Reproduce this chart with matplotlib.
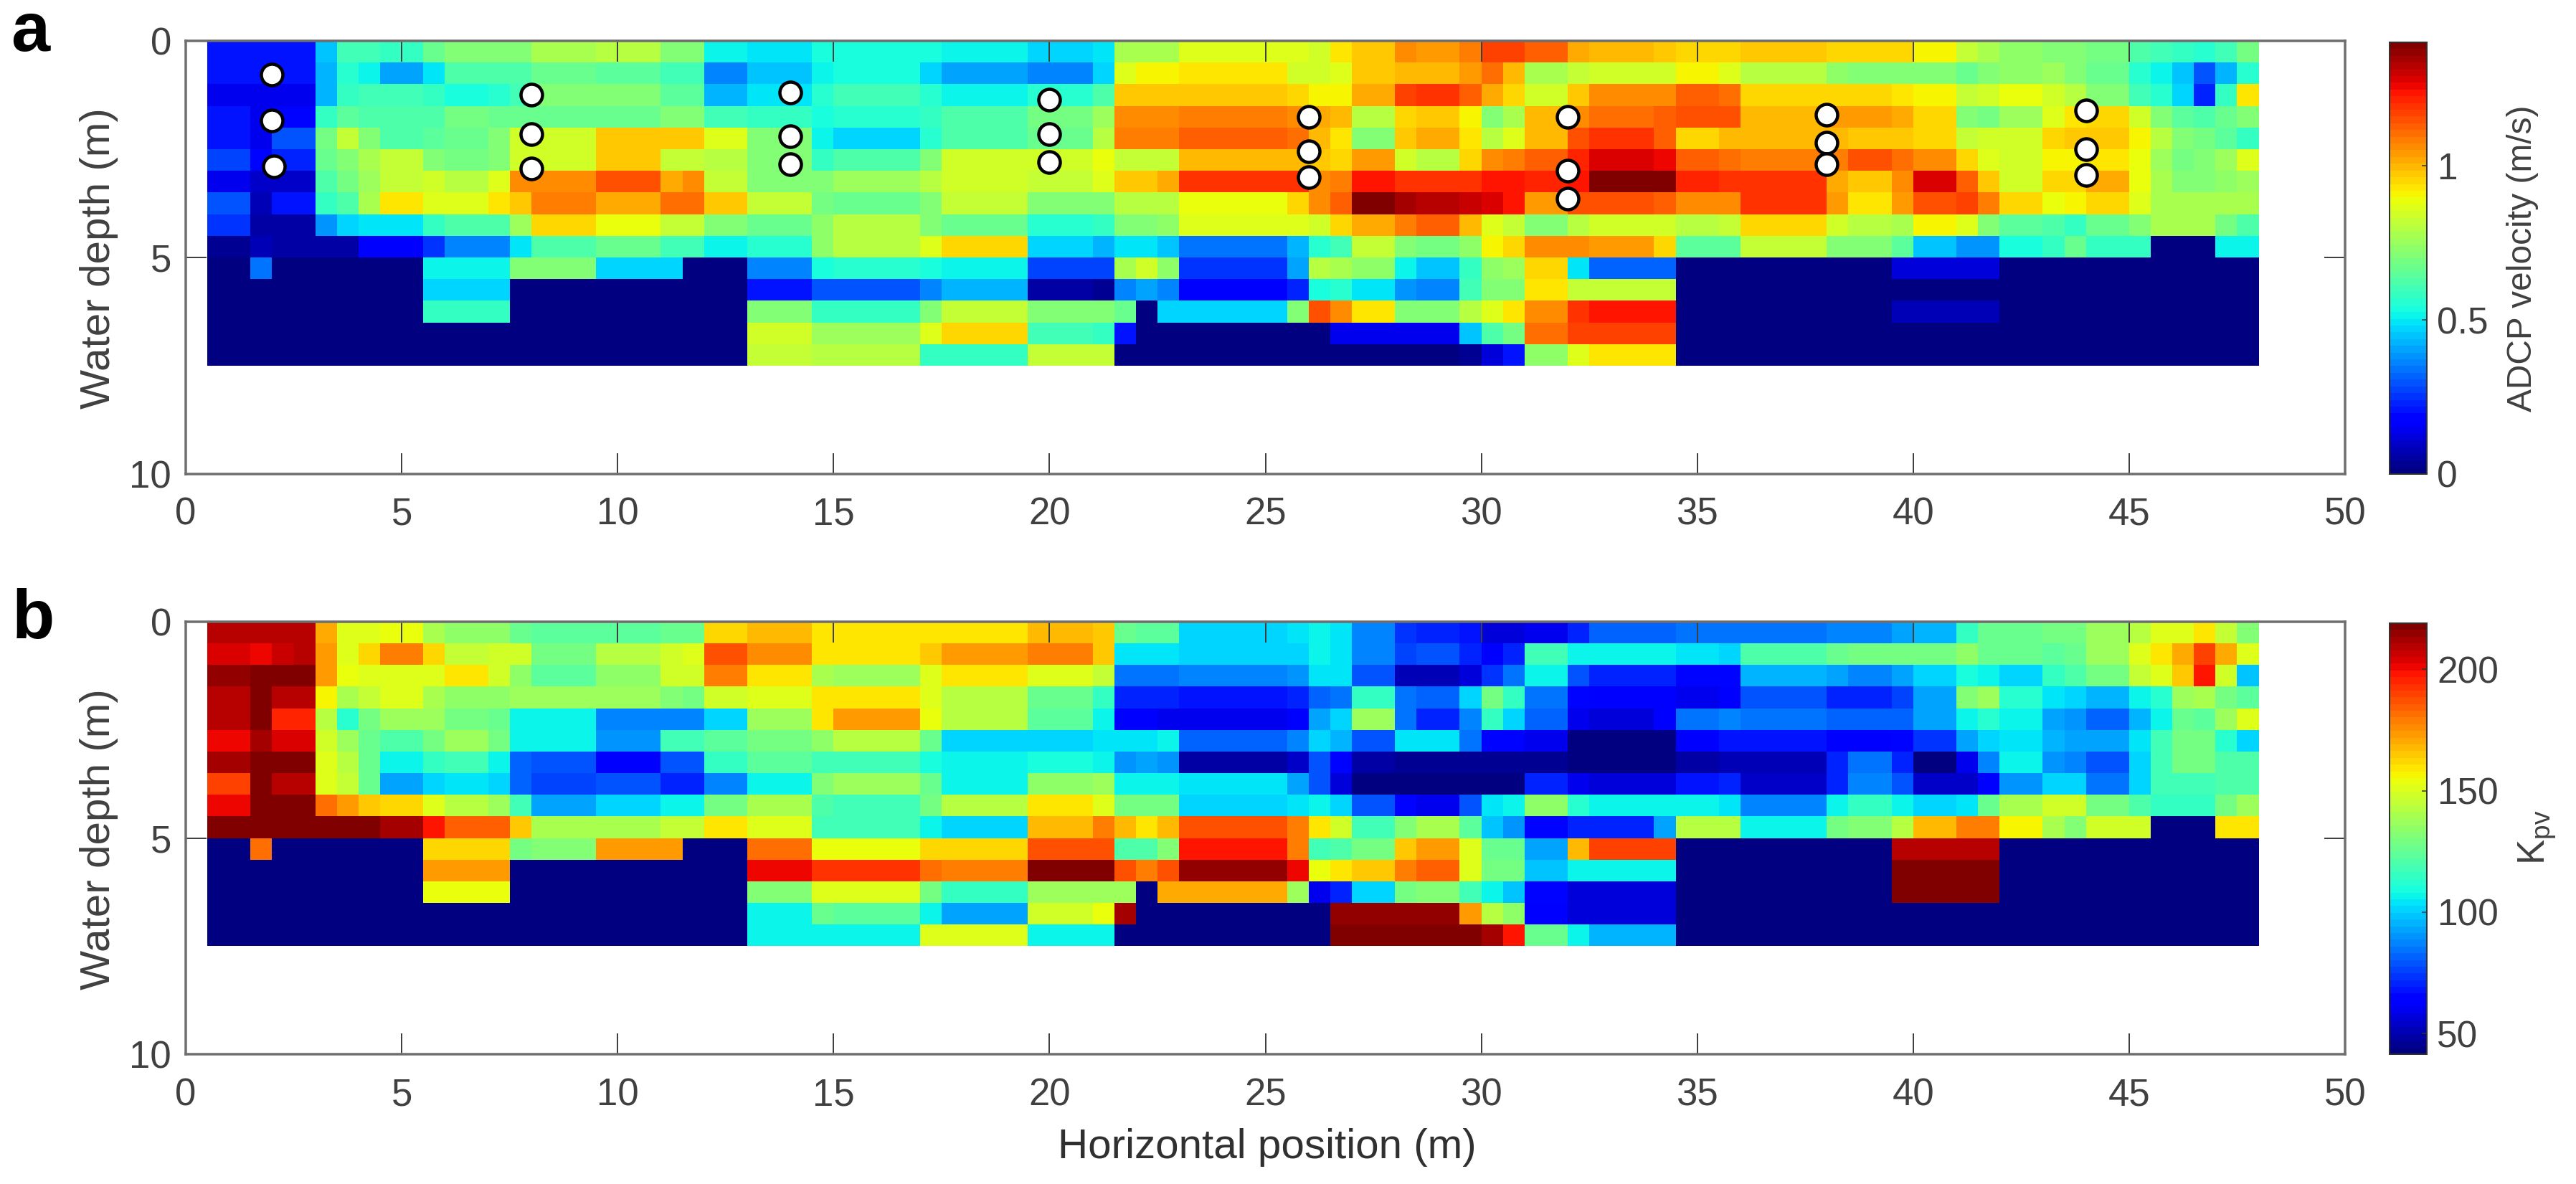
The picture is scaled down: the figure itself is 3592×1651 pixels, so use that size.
import numpy as np
import matplotlib
matplotlib.use("Agg")
import matplotlib.pyplot as plt

plt.rcParams['font.family'] = ['Liberation Sans', 'DejaVu Sans']
plt.rcParams['mathtext.fontset'] = 'custom'
plt.rcParams['mathtext.rm'] = 'Liberation Sans'
plt.rcParams['mathtext.default'] = 'rm'

# horizontal cell edges (m) and vertical cell edges (m)
x_edges = [0.5,1.5,2,2.5,3,3.5,4,4.5,5.5,6,7,7.5,8,9.5,11,11.5,12,13,14.5,15,17,17.5,19.5,21,21.5,22,22.5,23,
           25.5,26,26.5,27,28,28.5,29.5,30,30.5,31,32,32.5,34,34.5,35.5,36,38,38.5,39.5,40,41,41.5,42,43,43.5,
           44,45,45.5,46,46.5,47,47.5,48]
depth_edges = [0,0.5,1,1.5,2,2.5,3,3.5,4,4.5,5,5.5,6,6.5,7,7.5]

# ADCP velocity (m/s), one row per depth cell
v00 = [.20,.20,.20,.20,.45,.60,.60,.58,.66,.70, .72,.72,.78,.80,.72,.72,.52,.50,.53,.53, .53,.52,.46,.49,.78,.78,.78,.87,.87,.85, .92,.98,1.05,1.03,1.08,1.18,1.16,1.13,1.02,.99, .98,.96,.96,.97,.95,.95,.95,.90,.82,.78, .74,.72,.72,.68,.62,.60,.58,.55,.60,.68]
v01 = [.20,.20,.20,.20,.43,.56,.52,.40,.50,.62, .62,.62,.66,.64,.60,.60,.35,.44,.52,.53, .47,.40,.37,.46,.87,.90,.90,.92,.84,.84, .87,.97,1.0,1.0,1.03,1.10,1.0,.78,.82,.85, .85,.90,.86,.80,.74,.72,.72,.72,.66,.70, .74,.76,.72,.66,.56,.52,.44,.30,.42,.55]
v02 = [.15,.15,.15,.15,.43,.58,.60,.60,.58,.54, .56,.60,.72,.70,.65,.65,.42,.50,.56,.60, .55,.52,.55,.62,.97,.97,.97,.98,.96,.90, .90,1.02,1.18,1.20,1.12,1.02,.95,.85,.98,1.07, 1.07,1.12,1.10,.95,.95,.95,.93,.90,.82,.84, .88,.84,.80,.72,.60,.56,.48,.24,.58,.93]
v03 = [.20,.14,.18,.18,.57,.65,.62,.62,.62,.68, .67,.66,.66,.67,.70,.70,.60,.58,.54,.55, .57,.63,.68,.75,1.07,1.07,1.07,1.08,1.05,1.02, 1.00,.80,.95,.97,.90,.72,.78,1.00,1.05,1.10, 1.13,1.14,1.15,1.00,1.03,1.04,1.02,.95,.70,.68, .76,.86,.92,.96,.84,.72,.64,.62,.66,.72]
v04 = [.20,.14,.30,.30,.68,.82,.72,.62,.65,.66, .70,.85,.85,.98,.98,.98,.87,.70,.52,.46, .55,.63,.66,.80,1.09,1.09,1.09,1.12,1.10,1.00, .92,.72,.97,1.02,.94,.80,.86,1.00,1.15,1.19, 1.12,.96,.99,.99,.99,.98,.98,.95,.82,.84, .84,.96,.98,.98,.90,.80,.72,.68,.64,.58]
v05 = [.28,.18,.22,.22,.66,.72,.78,.82,.72,.68, .70,.85,.85,.98,.82,.82,.80,.72,.57,.62, .72,.85,.85,.88,.82,.82,.82,1.00,1.00,.98, .96,1.03,.85,.80,.95,1.06,1.08,1.13,1.22,1.28, 1.25,1.12,1.10,1.08,1.08,1.15,1.10,1.05,.95,.86, .85,.90,.90,.94,.88,.76,.68,.70,.76,.86]
v06 = [.14,.10,.10,.10,.63,.68,.76,.82,.84,.80, .86,1.05,1.06,1.14,1.02,1.05,.83,.72,.72,.76, .80,.84,.83,.86,.98,.98,1.02,1.20,1.20,1.05, 1.08,1.24,1.20,1.20,1.20,1.23,1.23,1.22,1.23,1.38, 1.38,1.22,1.20,1.20,1.02,.98,1.05,1.27,1.12,.98, .84,.95,.96,1.02,.88,.78,.72,.70,.74,.76]
v07 = [.30,.08,.20,.20,.58,.62,.78,.94,.87,.87, .92,.98,1.08,1.02,1.10,1.10,.98,.83,.68,.66, .70,.82,.70,.70,.80,.80,.80,.88,.96,1.07, 1.13,1.38,1.35,1.33,1.31,1.29,1.23,1.04,1.15,1.15, 1.12,1.06,1.06,1.20,1.03,.94,1.03,1.15,1.16,1.08, .95,.88,.90,.96,.86,.78,.78,.78,.78,.78]
v08 = [.25,.06,.06,.06,.38,.47,.49,.50,.58,.62, .62,.76,.96,.88,.82,.82,.70,.66,.74,.80, .72,.66,.56,.58,.70,.72,.74,.87,.87,.85, .95,1.02,1.08,1.12,1.00,.87,.82,.70,.80,.84, .84,.80,.82,.95,.84,.80,.78,.90,.86,.72, .64,.62,.58,.66,.70,.78,.78,.78,.68,.62]
v09 = [.04,.08,.05,.05,.05,.05,.16,.17,.26,.36, .36,.50,.62,.66,.60,.60,.52,.56,.74,.80, .86,.95,.46,.42,.50,.50,.45,.33,.42,.55, .60,.82,.72,.68,.74,.90,.96,1.07,1.05,1.03, .96,.65,.65,.82,.70,.70,.64,.45,.38,.38, .53,.58,.66,.58,.58,0,0,0,.52,.52]
v10 = [0,.34,0,0,0,0,0,0,.52,.52, .52,.70,.72,.46,.46,0,0,.36,.54,.56, .53,.52,.28,.28,.78,.84,.74,.26,.40,.80, .77,.74,.52,.45,.58,.74,.76,.96,.50,.32, .32,0,0,0,0,0,.12,.12,.12,.12, 0,0,0,0,0,0,0,0,0,0]
v11 = [0,0,0,0,0,0,0,0,.46,.46, .46,0,0,0,0,0,0,.20,.30,.30, .35,.43,.06,.03,.35,.40,.35,.17,.24,.54, .56,.50,.38,.36,.60,.70,.72,.93,.82,.83, .83,0,0,0,0,0,0,0,0,0, 0,0,0,0,0,0,0,0,0,0]
v12 = [0,0,0,0,0,0,0,0,.58,.58, .58,0,0,0,0,0,0,.70,.58,.58, .70,.82,.70,.70,.66,0,.46,.46,.70,1.14, 1.06,.93,.72,.70,.80,.87,.92,1.07,1.20,1.23, 1.23,0,0,0,0,0,.08,.08,.08,.08, 0,0,0,0,0,0,0,0,0,0]
v13 = [0,0,0,0,0,0,0,0,0,0, 0,0,0,0,0,0,0,.84,.76,.76, .86,.95,.60,.58,.20,0,0,0,0,0, .14,.14,.14,.14,.44,.62,.68,1.10,1.17,1.18, 1.18,0,0,0,0,0,0,0,0,0, 0,0,0,0,0,0,0,0,0,0]
v14 = [0,0,0,0,0,0,0,0,0,0, 0,0,0,0,0,0,0,.82,.80,.80, .58,.58,.83,.83,0,0,0,0,0,0, 0,0,0,.02,.03,.12,.20,.74,.87,.93, .93,0,0,0,0,0,0,0,0,0, 0,0,0,0,0,0,0,0,0,0]

# Kpv, one row per depth cell
k00 = [210,210,210,210,170,152,152,155,140,135, 135,125,122,122,125,125,162,167,160,158, 158,158,168,165,125,122,122,100,105,108, 105,88,74,72,67,56,56,60,72,82, 82,84,85,85,88,88,92,96,115,125, 125,130,130,138,143,150,150,158,145,132]
k01 = [205,200,207,210,172,150,162,178,163,146, 148,148,130,142,148,150,187,175,160,160, 165,172,180,166,103,103,103,100,102,108, 105,88,76,78,72,62,70,118,108,108, 106,103,100,120,126,130,130,130,135,125, 125,122,125,138,150,158,170,190,170,150]
k02 = [215,220,220,220,172,155,152,150,152,158, 148,135,122,135,148,148,178,158,140,138, 150,158,152,146,85,85,85,88,90,105, 105,78,50,50,58,74,84,108,78,72, 70,66,66,95,92,88,92,100,110,108, 100,115,120,130,145,152,165,197,148,98]
k03 = [210,220,208,208,157,140,145,150,140,135, 135,136,138,138,132,130,147,150,158,160, 152,142,125,115,72,72,70,68,70,82, 84,115,84,82,102,128,114,84,66,62, 62,60,62,78,72,70,75,92,132,138, 112,105,100,95,108,112,136,140,130,122]
k04 = [210,220,195,195,142,112,128,138,136,130, 125,108,107,88,88,88,100,137,158,172, 154,142,122,108,62,62,60,60,62,92, 102,136,84,72,86,115,100,82,60,58, 62,85,86,84,82,82,82,92,108,112, 108,92,90,82,95,108,125,122,138,150]
k05 = [200,212,205,205,148,138,125,120,128,136, 130,108,107,90,118,118,122,128,135,142, 125,100,100,103,105,105,108,82,88,100, 95,80,105,105,85,66,64,60,44,44, 44,62,68,68,62,62,64,74,94,102, 105,96,94,92,105,118,128,128,112,102]
k06 = [212,220,220,220,150,142,125,108,115,118, 108,82,78,63,80,78,116,124,118,118, 110,106,110,108,90,92,90,48,54,78, 64,48,45,46,46,46,46,46,42,42, 42,48,50,50,72,84,72,42,60,88, 108,90,88,78,100,118,128,128,120,120]
k07 = [190,222,210,210,150,145,125,92,100,104, 100,82,76,80,72,70,88,108,132,138, 125,108,135,136,108,108,108,105,92,78, 57,42,42,42,42,42,42,70,60,58, 58,68,70,54,72,88,78,54,54,62, 90,102,102,85,102,118,118,118,120,120]
k08 = [202,222,222,222,182,172,166,162,150,143, 138,118,92,100,106,108,128,140,120,118, 128,142,158,152,128,130,128,102,105,108, 100,78,66,60,80,104,108,135,112,108, 108,108,105,88,106,114,108,102,105,125, 140,148,148,130,120,115,115,115,130,138]
k09 = [222,222,222,222,222,222,222,212,197,183, 183,165,140,140,145,145,160,150,118,118, 108,100,168,180,168,160,168,188,178,158, 148,118,132,140,122,98,90,64,72,72, 92,142,142,108,130,132,142,168,178,178, 156,140,132,148,148,40,40,40,160,160]
k10 = [40,182,40,40,40,40,40,40,162,162, 162,130,132,172,172,40,40,182,155,154, 162,162,188,188,120,120,132,198,178,118, 120,130,164,172,150,125,125,92,168,190, 190,40,40,40,40,40,210,210,210,210, 40,40,40,40,40,40,40,40,40,40]
k11 = [40,40,40,40,40,40,40,40,172,172, 172,40,40,40,40,40,40,200,192,192, 182,178,222,222,187,178,188,215,200,155, 160,166,178,183,152,128,128,98,106,108, 108,40,40,40,40,40,220,220,220,220, 40,40,40,40,40,40,40,40,40,40]
k12 = [40,40,40,40,40,40,40,40,154,154, 154,40,40,40,40,40,40,132,150,150, 128,115,138,138,138,40,170,170,138,60, 72,100,128,132,118,106,98,66,56,56, 56,40,40,40,40,40,220,220,220,220, 40,40,40,40,40,40,40,40,40,40]
k13 = [40,40,40,40,40,40,40,40,40,40, 40,40,40,40,40,40,40,108,125,122, 108,92,148,155,212,40,40,40,40,40, 215,215,215,215,172,142,135,62,56,56, 56,40,40,40,40,40,40,40,40,40, 40,40,40,40,40,40,40,40,40,40]
k14 = [40,40,40,40,40,40,40,40,40,40, 40,40,40,40,40,40,40,108,108,108, 150,152,108,108,40,40,40,40,40,40, 222,222,222,222,222,212,198,125,106,96, 96,40,40,40,40,40,40,40,40,40, 40,40,40,40,40,40,40,40,40,40]

# measurement points in panel a
point_x = [2,2,2.05, 8,8,8, 14,14,14, 20,20,20, 26,26,26, 32,32,32, 38,38,38, 44,44,44]
point_depth = [0.78,1.83,2.89, 1.25,2.15,2.95, 1.2,2.2,2.85, 1.35,2.15,2.8, 1.75,2.55,3.15, 1.75,3.0,3.65, 1.7,2.35,2.85, 1.6,2.5,3.1]

velocity = np.array([v00,v01,v02,v03,v04,v05,v06,v07,v08,v09,v10,v11,v12,v13,v14], float)
kpv = np.array([k00,k01,k02,k03,k04,k05,k06,k07,k08,k09,k10,k11,k12,k13,k14], float)

W, H = 3592, 1651
fig = plt.figure(figsize=(W/100, H/100), dpi=100, facecolor='white')
PT = 0.72
TXT = '#404040'
SPINE = '#6e6e6e'
cmap = plt.get_cmap('jet', 64)

def box(l, t, r, b):
    return [l/W, 1-b/H, (r-l)/W, (b-t)/H]

def panel(top, bottom, data, vmin, vmax, ticks, ticklabels):
    ax = fig.add_axes(box(259, top, 3270, bottom))
    mesh = ax.pcolormesh(x_edges, depth_edges, data, cmap=cmap, vmin=vmin, vmax=vmax)
    ax.set_xlim(0, 50)
    ax.set_ylim(10, 0)
    ax.set_xticks(range(0, 51, 5))
    ax.set_yticks([0, 5, 10])
    ax.tick_params(axis='both', which='major', direction='in', top=True, right=True,
                   length=29*PT, width=2*PT, color='#404040', labelsize=38, labelcolor=TXT)
    ax.tick_params(axis='x', pad=32*PT)
    ax.tick_params(axis='y', pad=20*PT)
    for s in ax.spines.values():
        s.set_color(SPINE)
        s.set_linewidth(3.5*PT)
    cax = fig.add_axes(box(3332, top+2, 3384, bottom))
    cb = fig.colorbar(mesh, cax=cax)
    cb.set_ticks(ticks)
    cb.set_ticklabels(ticklabels)
    cb.ax.tick_params(direction='in', length=7*PT, width=1.5*PT, color='#333333',
                      labelsize=37, labelcolor=TXT, pad=14*PT)
    cb.outline.set_edgecolor('#303030')
    cb.outline.set_linewidth(2*PT)
    return ax, cb

ax_a, cb_a = panel(57, 661, velocity, 0, 1.4, [0, 0.5, 1], ['0', '0.5', '1'])
ax_b, cb_b = panel(867, 1470, kpv, 41.5, 219, [50, 100, 150, 200], ['50', '100', '150', '200'])

ax_a.plot(point_x, point_depth, linestyle='none', marker='o', markersize=30*PT,
          markerfacecolor='white', markeredgecolor='black', markeredgewidth=4.5*PT, zorder=5)

def ftext(x, y, s, **kw):
    fig.text(x/W, 1-y/H, s, ha='center', va='center', **kw)

ftext(138, 360, 'Water depth (m)', rotation=90, fontsize=42, color=TXT)
ftext(138, 1170, 'Water depth (m)', rotation=90, fontsize=42, color=TXT)
ftext(1767, 1600, 'Horizontal position (m)', fontsize=42, color='#303030')
ftext(3518, 360, 'ADCP velocity (m/s)', rotation=90, fontsize=34.5, color=TXT)
ftext(3538, 1168, r'K$_{\mathrm{pv}}$', rotation=90, fontsize=38, color=TXT)
ftext(42, 46, 'a', fontsize=70, fontweight='bold', color='black')
ftext(46, 865, 'b', fontsize=70, fontweight='bold', color='black')

fig.savefig('out.png', dpi=100, facecolor='white')
